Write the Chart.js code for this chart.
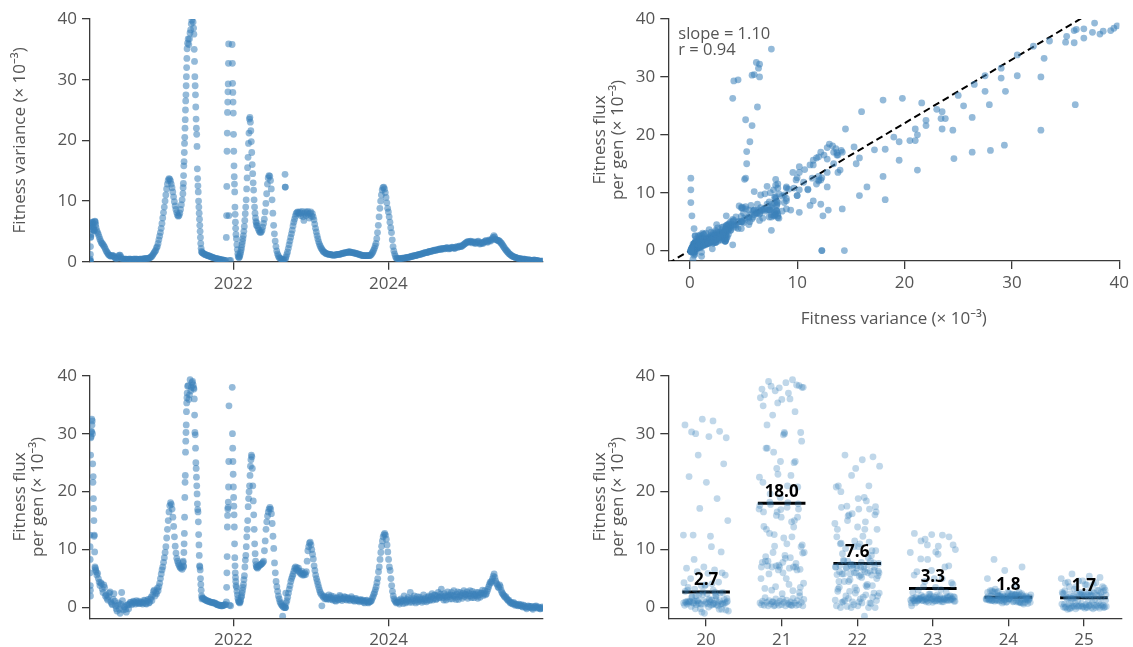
<!DOCTYPE html>
<html>
<head>
<meta charset="utf-8">
<script src="https://cdn.jsdelivr.net/npm/chart.js@4/dist/chart.umd.min.js"></script>
<style>
  html, body { margin: 0; padding: 0; background: #fff; }
  #fig { position: relative; width: 1133px; height: 647px; }
  canvas { position: absolute; }
</style>
</head>
<body>
<div id="fig">
  <canvas id="varTime" width="566" height="300" style="left:0;top:0"></canvas>
  <canvas id="fluxVsVar" width="553" height="340" style="left:580px;top:0"></canvas>
  <canvas id="fluxTime" width="566" height="307" style="left:0;top:340px"></canvas>
  <canvas id="fluxBySeason" width="553" height="307" style="left:580px;top:340px"></canvas>
</div>
<script>
// ---- data -------------------------------------------------------------
// sampling dates as decimal years
const sampleYear = [
  // early 2020
  2020.152,2020.153,2020.154,2020.155,2020.156,2020.157,2020.158,2020.160,2020.163,2020.166,
  2020.169,2020.172,2020.175,2020.178,2020.181,2020.184,2020.187,2020.190,2020.193,2020.196,
  2020.199,2020.202,2020.205,2020.208,2020.212,2020.216,2020.220,2020.225,2020.230,
  // 2020 lull
  2020.24,2020.25,2020.26,2020.27,2020.28,2020.29,2020.30,2020.31,2020.32,2020.33,
  2020.34,2020.35,2020.36,2020.37,2020.38,2020.39,2020.40,2020.41,2020.42,2020.43,
  2020.44,2020.45,2020.46,2020.47,2020.48,2020.49,2020.50,2020.51,2020.52,2020.53,
  2020.54,2020.55,2020.56,2020.57,2020.58,2020.59,2020.60,2020.61,2020.62,2020.63,
  2020.64,2020.65,2020.66,2020.67,2020.68,2020.69,2020.70,2020.71,2020.72,2020.73,
  2020.74,2020.75,2020.76,2020.77,2020.78,2020.79,2020.80,2020.81,2020.82,2020.83,
  2020.84,2020.85,2020.86,2020.87,2020.88,2020.89,2020.90,2020.91,2020.92,2020.93,
  2020.94,2020.95,2020.96,2020.97,2020.98,2020.99,2021.00,
  // early 2021 wave
  2021.01,2021.02,2021.03,2021.04,2021.05,2021.06,2021.07,2021.08,2021.09,2021.10,
  2021.11,2021.12,2021.13,2021.14,2021.15,2021.16,2021.17,2021.18,2021.19,2021.20,
  2021.21,2021.22,2021.23,2021.24,2021.25,2021.26,2021.27,2021.28,2021.29,2021.30,
  2021.31,2021.32,2021.33,2021.34,2021.35,
  // mid 2021 wave
  2021.353,2021.356,2021.359,2021.362,2021.365,2021.368,2021.371,2021.374,2021.377,2021.380,
  2021.383,2021.386,2021.389,2021.392,2021.395,2021.398,2021.401,2021.404,
  2021.410,2021.418,2021.426,2021.434,2021.442,2021.450,2021.458,2021.466,2021.474,2021.482,2021.488,
  2021.492,2021.496,2021.500,2021.504,2021.508,2021.512,2021.516,2021.520,2021.524,2021.528,
  2021.532,2021.536,2021.540,2021.544,2021.548,2021.552,2021.556,2021.560,2021.564,2021.568,
  2021.572,2021.576,2021.580,2021.585,2021.590,2021.595,
  // late 2021 lull
  2021.60,2021.61,2021.62,2021.63,2021.64,2021.65,2021.66,2021.67,2021.68,2021.69,
  2021.70,2021.71,2021.72,2021.73,2021.74,2021.75,2021.76,2021.77,2021.78,2021.79,
  2021.80,2021.81,2021.82,2021.83,2021.84,2021.85,2021.86,2021.87,2021.88,2021.89,
  2021.90,
  // turn of 2022
  2021.910,2021.913,2021.916,2021.919,2021.922,2021.925,2021.928,2021.931,2021.934,2021.937,
  2021.940,2021.943,2021.950,2021.965,
  2021.985,2021.988,2021.991,2021.994,2021.997,2022.000,2022.003,2022.006,2022.009,2022.012,
  2022.015,2022.018,2022.021,2022.024,2022.027,2022.030,2022.034,
  // early 2022 wave
  2022.040,2022.046,2022.052,2022.058,2022.064,2022.070,2022.076,2022.082,2022.088,2022.094,
  2022.100,2022.106,2022.112,2022.118,2022.124,2022.130,2022.136,2022.142,2022.148,2022.154,
  2022.160,2022.166,2022.172,2022.178,2022.184,2022.190,2022.196,2022.202,2022.208,2022.214,
  2022.220,2022.226,2022.232,2022.238,2022.244,2022.250,2022.256,2022.262,2022.268,2022.274,
  2022.280,2022.286,2022.292,2022.298,
  // mid 2022 wave
  2022.30,2022.31,2022.32,2022.33,2022.34,2022.35,2022.36,2022.37,2022.38,2022.39,
  2022.40,2022.41,2022.42,2022.43,2022.44,2022.45,2022.46,2022.47,2022.48,2022.49,
  2022.50,2022.51,2022.52,2022.53,2022.54,2022.55,2022.56,2022.57,2022.58,2022.59,
  2022.60,2022.61,2022.62,
  2022.630,2022.635,2022.640,2022.650,2022.660,2022.667,2022.669,2022.671,2022.675,2022.680,2022.690,
  // late 2022 – early 2023
  2022.70,2022.71,2022.72,2022.73,2022.74,2022.75,2022.76,2022.77,2022.78,2022.79,
  2022.80,2022.81,2022.82,2022.83,2022.84,2022.85,2022.86,2022.87,2022.88,2022.89,
  2022.90,2022.91,2022.92,2022.93,2022.94,2022.95,2022.96,2022.97,2022.98,2022.99,
  2023.00,2023.01,2023.02,2023.03,2023.04,2023.05,2023.06,2023.07,2023.08,2023.09,
  2023.10,2023.11,2023.12,2023.13,2023.14,2023.15,2023.16,2023.17,2023.18,2023.19,
  2023.20,
  // 2023 lull
  2023.21,2023.22,2023.23,2023.24,2023.25,2023.26,2023.27,2023.28,2023.29,2023.30,
  2023.31,2023.32,2023.33,2023.34,2023.35,2023.36,2023.37,2023.38,2023.39,2023.40,
  2023.41,2023.42,2023.43,2023.44,2023.45,2023.46,2023.47,2023.48,2023.49,2023.50,
  2023.51,2023.52,2023.53,2023.54,2023.55,2023.56,2023.57,2023.58,2023.59,2023.60,
  2023.61,2023.62,2023.63,2023.64,2023.65,2023.66,2023.67,2023.68,2023.69,2023.70,
  2023.71,2023.72,2023.73,2023.74,2023.75,2023.76,2023.77,2023.78,
  // winter 2023/24 wave
  2023.79,2023.80,2023.81,2023.82,2023.83,2023.84,2023.85,2023.86,2023.87,2023.88,
  2023.89,2023.90,2023.91,2023.92,2023.93,2023.94,2023.95,2023.96,2023.97,2023.98,
  2023.99,2024.00,2024.01,2024.02,2024.03,2024.04,2024.05,2024.06,2024.07,2024.08,
  2024.09,2024.10,
  // 2024 – 2025
  2024.11,2024.12,2024.13,2024.14,2024.15,2024.16,2024.17,2024.18,2024.19,2024.20,
  2024.21,2024.22,2024.23,2024.24,2024.25,2024.26,2024.27,2024.28,2024.29,2024.30,
  2024.31,2024.32,2024.33,2024.34,2024.35,2024.36,2024.37,2024.38,2024.39,2024.40,
  2024.41,2024.42,2024.43,2024.44,2024.45,2024.46,2024.47,2024.48,2024.49,2024.50,
  2024.51,2024.52,2024.53,2024.54,2024.55,2024.56,2024.57,2024.58,2024.59,2024.60,
  2024.61,2024.62,2024.63,2024.64,2024.65,2024.66,2024.67,2024.68,2024.69,2024.70,
  2024.71,2024.72,2024.73,2024.74,2024.75,2024.76,2024.77,2024.78,2024.79,2024.80,
  2024.81,2024.82,2024.83,2024.84,2024.85,2024.86,2024.87,2024.88,2024.89,2024.90,
  2024.91,2024.92,2024.93,2024.94,2024.95,2024.96,2024.97,2024.98,2024.99,
  2025.00,2025.01,2025.02,2025.03,2025.04,2025.05,2025.06,2025.07,2025.08,2025.09,
  2025.10,2025.11,2025.12,2025.13,2025.14,2025.15,2025.16,2025.17,2025.18,2025.19,
  2025.20,2025.21,2025.22,2025.23,2025.24,2025.25,2025.26,2025.27,2025.28,2025.29,
  2025.30,2025.31,2025.32,2025.33,2025.34,2025.35,2025.36,2025.37,2025.38,2025.39,
  2025.40,2025.41,2025.42,2025.43,2025.44,2025.45,2025.46,2025.47,2025.48,2025.49,
  2025.50,2025.51,2025.52,2025.53,2025.54,2025.55,2025.56,2025.57,2025.58,2025.59,
  2025.60,2025.61,2025.62,2025.63,2025.64,2025.65,2025.66,2025.67,2025.68,2025.69,
  2025.70,2025.71,2025.72,2025.73,2025.74,2025.75,2025.76,2025.77,2025.78,2025.79,
  2025.80,2025.81,2025.82,2025.83,2025.84,2025.85,2025.86,2025.87,2025.88,2025.89,
  2025.90,2025.91,2025.92,2025.93,2025.94,2025.95,2025.96,2025.97,2025.98,2025.99
];

// fitness variance (× 10⁻³)
const fitnessVariance = [
  0.1,0.1,0.1,0.2,0.4,1.2,2.5,4.0,4.1,4.5,
  5.8,6.0,6.2,6.4,6.5,6.5,6.3,5.8,5.2,5.6,
  5.3,5.3,5.1,5.2,6.6,6.7,6.5,6.1,5.6,

  5.1,4.8,4.5,4.1,3.7,3.4,3.1,3.0,2.8,2.6,
  2.4,2.1,1.8,1.6,1.4,1.2,1.1,1.0,0.9,1.0,
  1.0,1.0,0.9,0.7,0.6,0.5,0.5,0.7,0.9,1.1,
  1.1,0.8,0.5,0.4,0.4,0.4,0.4,0.4,0.4,0.3,
  0.3,0.4,0.4,0.4,0.4,0.3,0.3,0.4,0.4,0.4,
  0.4,0.4,0.4,0.3,0.3,0.4,0.4,0.4,0.4,0.4,
  0.4,0.5,0.5,0.5,0.5,0.5,0.5,0.6,0.6,0.7,
  0.8,0.9,1.1,1.3,1.5,1.7,1.9,

  2.3,2.5,3.0,3.6,4.2,4.8,5.5,6.3,7.2,8.1,
  9.0,10.0,11.0,12.0,12.8,13.4,13.7,13.6,13.3,12.8,
  12.2,11.5,10.7,9.9,9.2,8.6,8.1,7.7,7.5,7.6,
  8.0,8.6,9.4,10.2,11.2,

  12.2,12.9,14.2,15.8,16.5,18.0,19.5,20.5,22.0,23.4,
  25.0,26.5,27.5,29.0,30.5,32.0,33.5,35.1,
  36.0,36.7,35.8,36.7,37.7,38.2,39.2,39.8,40.3,39.5,38.5,
  37.5,35.0,33.0,30.5,29.0,27.5,25.5,23.5,22.0,21.0,
  19.0,15.3,13.7,12.5,11.5,10.0,9.0,8.0,7.0,6.0,
  5.0,4.0,3.0,2.2,1.7,1.5,

  1.5,1.4,1.3,1.2,1.2,1.1,1.1,1.0,1.0,0.9,
  0.9,0.8,0.8,0.7,0.7,0.6,0.6,0.55,0.5,0.5,
  0.45,0.4,0.4,0.35,0.35,0.3,0.3,0.25,0.25,0.2,
  0.2,

  4.0,7.6,12.4,18.2,21.2,24.6,26.3,28.0,29.3,32.7,
  35.9,7.6,0.2,0.2,
  35.8,32.7,29.4,27.9,26.3,24.5,21.0,18.2,15.8,14.0,
  12.8,11.5,9.0,7.8,6.5,5.5,4.5,

  3.8,2.8,2.0,1.3,0.9,0.7,0.7,0.9,1.2,1.5,
  1.9,2.3,2.8,3.3,3.8,4.3,5.0,5.8,6.8,7.9,
  9.0,10.2,12.0,13.8,15.5,17.2,19.5,21.2,23.5,23.8,
  23.0,21.6,19.8,18.0,16.0,14.5,13.0,11.8,10.2,9.0,
  8.0,7.2,6.6,6.0,

  6.4,5.9,5.5,5.2,4.9,4.8,4.9,5.2,5.7,6.3,
  7.0,8.2,9.6,11.2,12.8,13.8,14.2,14.1,13.4,12.0,
  10.2,8.0,6.0,4.6,3.4,2.5,1.8,1.3,1.0,0.7,
  0.6,0.5,0.4,
  0.3,0.3,0.3,0.3,0.3,14.4,12.3,12.3,0.5,0.8,1.2,

  1.6,2.2,2.8,3.4,4.0,4.6,5.2,5.9,6.5,7.0,
  7.5,7.9,8.1,8.2,8.1,7.9,8.2,7.6,8.0,8.3,
  7.4,6.8,7.9,8.2,7.6,8.1,8.3,7.8,7.2,8.0,
  8.2,7.5,7.9,7.4,6.9,6.2,5.5,4.9,4.3,3.8,
  3.3,2.9,2.6,2.3,2.1,1.9,1.7,1.6,1.5,1.4,
  1.3,

  1.3,1.3,1.2,1.2,1.2,1.2,1.1,1.1,1.1,1.1,
  1.1,1.1,1.2,1.2,1.2,1.2,1.2,1.3,1.3,1.3,
  1.4,1.4,1.4,1.5,1.5,1.5,1.5,1.6,1.6,1.6,
  1.6,1.5,1.5,1.5,1.5,1.4,1.4,1.4,1.3,1.3,
  1.3,1.2,1.2,1.1,1.1,1.1,1.0,1.0,1.0,1.0,
  1.0,1.0,1.0,1.0,1.0,1.0,1.1,1.2,

  1.4,1.6,1.9,2.2,2.6,3.0,3.8,4.8,6.0,7.4,
  8.8,10.0,11.0,11.8,12.2,12.3,12.0,11.4,10.6,9.7,
  8.8,8.2,7.4,6.5,5.6,4.8,3.6,2.5,1.8,1.3,
  0.9,0.6,

  0.5,0.5,0.5,0.5,0.5,0.5,0.5,0.6,0.6,0.6,
  0.6,0.6,0.7,0.7,0.7,0.7,0.8,0.8,0.8,0.9,
  0.9,0.9,1.0,1.0,1.0,1.1,1.1,1.1,1.2,1.2,
  1.2,1.3,1.3,1.3,1.4,1.4,1.5,1.5,1.5,1.5,
  1.6,1.6,1.7,1.7,1.7,1.8,1.8,1.8,1.9,1.9,
  1.9,1.9,2.0,2.0,2.0,2.1,2.1,2.0,2.1,2.2,
  2.2,2.1,2.2,2.2,2.3,2.3,2.2,2.1,2.2,2.2,
  2.3,2.4,2.3,2.3,2.2,2.2,2.4,2.5,2.4,2.4,
  2.5,2.6,2.5,2.5,2.6,2.7,2.8,2.9,3.0,
  3.1,3.2,3.3,3.3,3.2,3.3,3.4,3.3,3.1,3.2,
  3.3,3.2,3.0,3.1,3.2,3.3,3.4,3.1,2.9,3.0,
  3.2,3.1,3.0,3.2,3.3,3.4,3.5,3.3,3.2,3.4,
  3.6,3.5,3.4,3.6,3.8,4.0,4.3,4.1,3.7,3.6,
  3.6,3.5,3.5,3.4,3.3,3.1,3.0,2.8,2.6,2.4,
  2.2,2.0,1.9,1.7,1.6,1.4,1.3,1.2,1.1,1.0,
  0.9,0.85,0.8,0.75,0.7,0.65,0.6,0.55,0.5,0.5,
  0.5,0.45,0.4,0.4,0.4,0.4,0.4,0.35,0.3,0.3,
  0.3,0.3,0.3,0.25,0.2,0.2,0.2,0.25,0.3,0.25,
  0.2,0.2,0.2,0.15,0.1,0.1,0.1,0.1,0.1,0.1
];

// fitness flux per generation (× 10⁻³)
const fitnessFlux = [
  12.5,10.5,8.3,6.0,3.8,3.0,2.0,26.3,29.3,29.5,
  30.3,30.4,32.5,31.5,32.2,30.0,24.8,21.6,22.6,18.8,
  17.1,15.0,12.3,12.5,9.6,7.0,6.8,6.5,6.2,

  5.6,5.9,5.0,4.4,3.8,4.3,4.1,3.2,2.6,3.9,
  3.5,2.0,2.2,1.6,1.3,1.9,2.5,2.7,1.0,0.7,
  0.5,1.4,2.4,1.1,0.3,-0.2,-0.6,0.4,0.8,-0.3,
  -1.0,0.6,2.6,1.2,-0.4,0.1,0.2,-0.3,-0.8,0.4,
  0.5,-0.2,0.6,0.9,0.9,0.5,0.7,1.1,1.0,0.8,
  0.6,1.2,0.9,0.7,1.1,0.8,0.7,1.0,0.9,0.6,
  0.8,1.3,1.2,0.7,0.6,1.1,1.4,0.8,0.9,1.5,
  1.8,1.2,2.2,2.8,3.0,2.0,2.6,

  2.4,3.3,2.9,3.6,4.2,5.0,5.8,6.5,7.0,7.8,
  8.6,9.5,10.5,12.0,13.5,15.0,16.5,17.6,18.1,17.8,
  17.0,15.6,14.0,12.2,10.6,9.4,8.5,8.0,7.6,7.3,
  7.0,6.8,7.0,6.6,7.8,

  8.0,7.0,7.2,9.5,11.0,12.8,15.6,19.0,21.6,22.8,
  26.8,28.7,30.2,31.5,33.8,35.3,36.2,37.0,
  38.2,38.3,35.9,36.7,39.3,37.4,38.0,38.8,39.0,38.4,37.9,
  37.7,36.0,33.2,30.2,29.8,27.5,25.0,24.0,22.5,21.0,
  19.6,17.9,16.9,16.5,14.8,12.6,10.8,9.0,7.2,7.0,
  6.5,5.0,4.0,3.0,2.0,1.5,

  1.7,1.6,1.5,1.4,1.3,1.2,1.2,1.1,1.1,1.0,
  1.0,0.9,0.9,0.9,0.8,0.8,0.8,0.7,0.6,0.5,
  0.5,0.4,0.4,0.4,0.3,0.3,0.3,0.4,0.4,0.5,
  0.5,

  1.0,3.5,6.0,8.8,13.9,15.9,17.0,17.3,18.2,20.8,
  25.2,34.8,0.4,0.3,
  38.0,30.0,27.5,25.2,23.0,20.8,19.0,17.5,16.0,13.9,
  11.0,8.6,7.2,6.0,5.2,4.5,3.8,

  3.5,2.8,2.2,1.6,1.2,1.0,0.9,0.8,1.0,1.3,
  1.8,2.0,2.5,3.0,3.5,4.0,4.8,5.5,7.0,8.2,
  9.0,10.5,12.2,13.5,15.0,17.4,18.8,20.0,21.0,22.8,
  24.4,25.5,26.3,26.0,24.0,21.0,18.4,16.0,13.5,11.0,
  9.3,8.0,7.4,7.0,

  7.0,6.8,7.0,7.2,7.3,7.4,7.5,7.6,7.8,8.0,
  9.8,11.5,13.5,14.8,15.8,16.5,17.0,17.3,17.0,16.2,
  14.5,12.3,10.2,7.7,6.0,4.5,3.6,2.8,2.0,1.5,
  1.0,0.7,0.5,
  0.3,-1.5,0.2,0.0,0.3,0.0,0.0,0.0,2.5,0.8,1.2,

  1.8,2.5,3.2,3.8,4.5,5.0,5.4,5.8,6.3,6.8,
  7.0,6.6,6.9,6.4,6.8,6.2,6.0,5.8,6.3,5.6,
  5.8,5.6,6.0,5.7,6.2,8.0,9.8,10.5,11.1,11.3,
  10.8,10.0,9.2,8.4,7.2,6.4,5.6,5.0,4.5,4.0,
  3.5,3.0,2.6,2.3,0.3,2.0,1.8,2.0,1.5,1.8,
  1.5,

  1.5,1.8,2.2,1.4,1.7,2.0,1.5,1.3,1.9,1.6,
  1.2,1.1,1.6,1.7,1.3,1.4,2.1,1.9,1.5,1.2,
  1.6,1.5,1.9,1.8,1.4,1.3,1.7,1.6,1.5,1.2,
  1.4,1.9,1.6,1.4,1.2,1.1,1.5,1.6,1.2,1.3,
  1.2,1.0,1.3,1.4,1.1,1.2,1.3,0.9,0.8,1.1,
  1.2,1.3,0.9,0.8,1.0,1.0,1.1,1.2,

  1.6,1.9,2.3,2.6,3.1,3.6,4.3,5.0,6.2,7.0,
  8.3,9.5,10.6,11.5,12.2,12.6,12.8,12.5,11.8,10.8,
  9.6,8.3,7.0,6.4,5.0,3.8,2.8,2.0,1.5,1.2,
  1.0,0.8,

  0.9,1.0,1.3,0.6,0.9,1.5,1.2,1.1,0.7,2.0,
  1.3,0.8,1.0,1.4,1.7,1.2,0.9,2.6,1.5,0.9,
  1.2,1.6,2.0,1.1,0.8,1.4,1.9,1.0,1.3,1.8,
  1.5,1.2,0.9,1.5,2.2,1.1,1.4,1.7,1.0,1.3,
  1.8,2.0,1.2,1.4,1.9,2.4,1.3,1.6,2.2,2.1,
  1.4,1.5,2.0,2.6,1.7,1.8,2.3,3.2,2.0,1.7,
  1.3,2.4,2.0,1.3,1.8,2.7,2.2,1.9,1.5,2.2,
  2.6,1.5,2.0,2.9,2.1,1.8,1.4,2.3,2.7,1.4,
  1.9,2.6,2.2,2.0,1.6,2.5,2.9,1.9,2.3,
  2.2,2.7,1.6,2.0,2.4,2.9,2.0,1.7,2.8,2.3,
  1.7,2.1,2.3,2.6,2.0,1.6,2.6,2.2,1.8,2.5,
  2.5,3.0,2.1,2.4,2.9,2.2,2.4,2.8,3.2,3.6,
  4.0,4.4,4.3,4.6,5.0,5.4,5.8,5.2,4.6,4.2,
  4.0,3.6,3.4,3.9,3.6,3.0,2.6,2.4,2.2,2.0,
  1.8,1.9,1.6,1.4,1.2,1.3,1.0,0.8,0.9,0.7,
  0.6,0.9,0.7,0.4,0.5,0.6,0.4,0.3,0.6,0.4,
  0.3,0.5,0.2,0.1,0.4,0.3,0.1,0.0,-0.2,0.2,
  0.3,0.1,0.0,0.2,0.2,-0.1,-0.3,0.0,0.1,0.2,
  0.3,0.0,-0.1,0.1,0.0,-0.2,-0.2,0.0,0.1,-0.1
];

// axis ticks and per-season summary
const yearTicks = [2022, 2024];
const valueTicks = [0, 10, 20, 30, 40];
const seasons = [20, 21, 22, 23, 24, 25];
const seasonMeans = [2.7, 18.0, 7.6, 3.3, 1.8, 1.7];
const fitSlope = 1.10;
const fitR = 0.94;

// ---- styling ----------------------------------------------------------
const FONT = '"Open Sans", "Noto Sans", "DejaVu Sans", sans-serif';
const INK = '#555555';
const SPINE = '#3a3a3a';
const DOT = 'rgba(60,130,186,0.55)';
const DOT_LIGHT = 'rgba(60,130,186,0.32)';
const FLUX_TITLE = ['Fitness flux', 'per gen (× 10⁻³)'];
const VAR_TITLE = 'Fitness variance (× 10⁻³)';
const TITLE_FONT = {size: 17, lineHeight: 1.1};

Chart.defaults.font.family = FONT;
Chart.defaults.color = INK;

function axis(opts) {
  const {min, max, ticks, fixed, vertical, title, titlePad} = opts;
  return {
    type: 'linear',
    position: vertical ? 'left' : 'bottom',
    min, max,
    afterBuildTicks: s => { s.ticks = ticks.map(v => ({value: v})); },
    afterFit: s => { if (vertical) s.width = fixed; else s.height = fixed; },
    border: {display: true, color: SPINE, width: 1.3},
    grid: {display: true, drawOnChartArea: false, drawTicks: true, tickLength: 8,
           color: SPINE, lineWidth: 1.3},
    ticks: {color: INK, font: {size: 17}, padding: vertical ? 5 : 4, maxRotation: 0,
            callback: v => String(v)},
    title: title ? {display: true, text: title, color: INK, font: TITLE_FONT,
                    padding: titlePad} : {display: false}
  };
}

function baseOptions(padding, scales) {
  return {
    responsive: false, animation: false, events: [],
    layout: {padding},
    plugins: {legend: {display: false}, tooltip: {enabled: false}},
    scales
  };
}

function dots(data, color) {
  return {type: 'scatter', data, backgroundColor: color, borderWidth: 0,
          pointRadius: 3.4, pointHoverRadius: 3.4, clip: 0};
}

const n = Math.min(sampleYear.length, fitnessVariance.length, fitnessFlux.length);
const idx = Array.from({length: n}, (_, i) => i);

// ---- variance through time --------------------------------------------
new Chart(document.getElementById('varTime'), {
  type: 'scatter',
  data: {datasets: [dots(idx.map(i => ({x: sampleYear[i], y: fitnessVariance[i]})), DOT)]},
  options: baseOptions({left: 0, top: 19, right: 23.3, bottom: 0}, {
    x: axis({min: 2020.152, max: 2025.99, ticks: yearTicks, fixed: 38.3}),
    y: axis({min: 0, max: 40, ticks: valueTicks, fixed: 90, vertical: true,
             title: VAR_TITLE, titlePad: {top: 11, bottom: 0}})
  })
});

// ---- flux against variance --------------------------------------------
const fitText = {
  id: 'fitText',
  afterDatasetsDraw(chart) {
    const {ctx, chartArea} = chart;
    ctx.save();
    ctx.font = `16.5px ${FONT}`;
    ctx.fillStyle = INK;
    ctx.textAlign = 'left';
    ctx.textBaseline = 'middle';
    ctx.fillText(`slope = ${fitSlope.toFixed(2)}`, chartArea.left + 10, chartArea.top + 15);
    ctx.fillText(`r = ${fitR.toFixed(2)}`, chartArea.left + 10, chartArea.top + 31.5);
    ctx.restore();
  }
};
new Chart(document.getElementById('fluxVsVar'), {
  type: 'scatter',
  data: {datasets: [
    dots(idx.map(i => ({x: fitnessVariance[i], y: fitnessFlux[i]})), DOT),
    {type: 'line', data: [{x: -2, y: -2 * fitSlope}, {x: 40, y: 40 * fitSlope}],
     borderColor: '#000', borderWidth: 2, borderDash: [7, 4], pointRadius: 0, clip: 0}
  ]},
  options: baseOptions({left: 0, top: 19, right: 11.3, bottom: 0}, {
    x: axis({min: -2, max: 40, ticks: valueTicks, fixed: 79,
             title: VAR_TITLE, titlePad: {top: 0, bottom: 11.3}}),
    y: axis({min: -1.8, max: 40, ticks: valueTicks, fixed: 88.3, vertical: true,
             title: FLUX_TITLE, titlePad: {top: 10.6, bottom: 0}})
  }),
  plugins: [fitText]
});

// ---- flux through time ------------------------------------------------
new Chart(document.getElementById('fluxTime'), {
  type: 'scatter',
  data: {datasets: [dots(idx.map(i => ({x: sampleYear[i], y: fitnessFlux[i]})), DOT)]},
  options: baseOptions({left: 0, top: 35.7, right: 23, bottom: 0}, {
    x: axis({min: 2020.152, max: 2025.99, ticks: yearTicks, fixed: 28.7}),
    y: axis({min: -1.85, max: 40, ticks: valueTicks, fixed: 90, vertical: true,
             title: FLUX_TITLE, titlePad: {top: 10.6, bottom: 0}})
  })
});

// ---- flux by season ---------------------------------------------------
// strip offsets spread each season's points evenly across its column
const stripOffset = i => (((i * 0.6180339887) % 1) - 0.5) * 0.6;
const meanLabels = {
  id: 'meanLabels',
  afterDatasetsDraw(chart) {
    const {ctx, scales: {x, y}} = chart;
    ctx.save();
    ctx.font = `bold 17px ${FONT}`;
    ctx.fillStyle = '#000';
    ctx.textAlign = 'center';
    ctx.textBaseline = 'middle';
    seasons.forEach((s, k) => {
      ctx.fillText(seasonMeans[k].toFixed(1), x.getPixelForValue(s),
                   y.getPixelForValue(seasonMeans[k]) - 11.5);
    });
    ctx.restore();
  }
};
new Chart(document.getElementById('fluxBySeason'), {
  type: 'scatter',
  data: {datasets: [
    dots(idx.map(i => ({x: Math.floor(sampleYear[i]) - 2000 + stripOffset(i), y: fitnessFlux[i]})), DOT_LIGHT),
    ...seasons.map((s, k) => ({
      type: 'line', data: [{x: s - 0.315, y: seasonMeans[k]}, {x: s + 0.315, y: seasonMeans[k]}],
      borderColor: '#000', borderWidth: 3, pointRadius: 0, clip: 0
    }))
  ]},
  options: baseOptions({left: 0, top: 35.7, right: 11.3, bottom: 0}, {
    x: axis({min: 19.5, max: 25.5, ticks: seasons, fixed: 28.7}),
    y: axis({min: -1.85, max: 40, ticks: valueTicks, fixed: 88.3, vertical: true,
             title: FLUX_TITLE, titlePad: {top: 10.6, bottom: 0}})
  }),
  plugins: [meanLabels]
});
</script>
</body>
</html>
